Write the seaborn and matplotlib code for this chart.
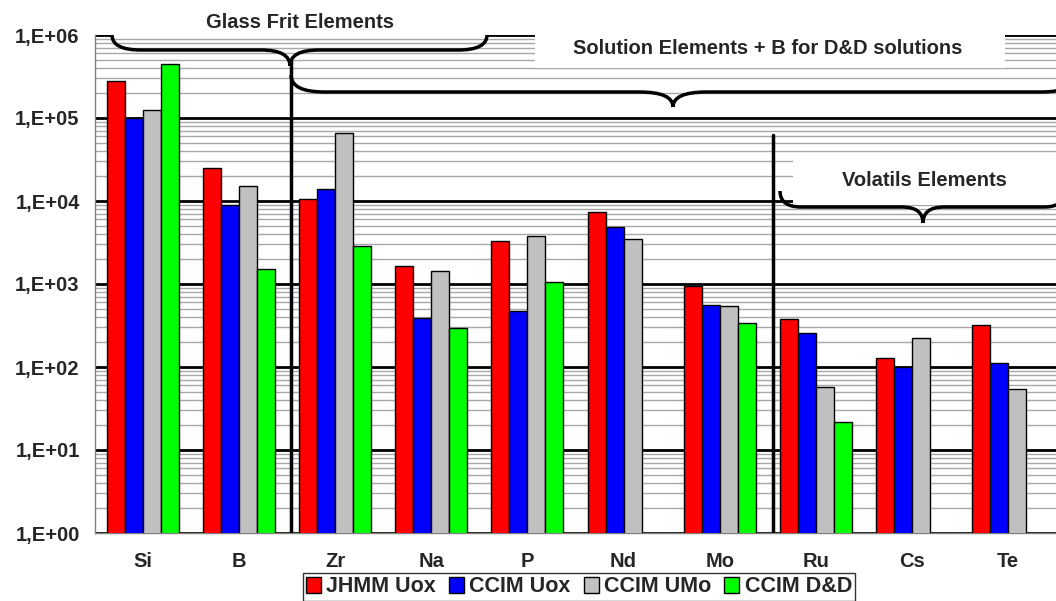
import numpy as np
import pandas as pd
import seaborn as sns
import matplotlib.pyplot as plt
from matplotlib.path import Path
from matplotlib.patches import PathPatch, Rectangle
from matplotlib.transforms import blended_transform_factory

# data (log scale)
elements = ["Si", "B", "Zr", "Na", "P", "Nd", "Mo", "Ru", "Cs", "Te"]
series = ["JHMM Uox", "CCIM Uox", "CCIM UMo", "CCIM D&D"]
jhmm_uox = [280000, 25000, 10500, 1650, 3300, 7400, 950, 380, 128, 320]
ccim_uox = [100000, 9000, 14000, 390, 470, 4900, 560, 260, 100, 112]
ccim_umo = [125000, 15000, 66000, 1430, 3800, 3500, 550, 57, 225, 54]
ccim_dd = [450000, 1500, 2900, 295, 1050, np.nan, 340, 22, np.nan, np.nan]
colors = ["#FF0000", "#0000FF", "#C0C0C0", "#00FF00"]
ytick_vals = [1, 10, 100, 1000, 10000, 100000, 1000000]
ytick_labels = ["1,E+00", "1,E+01", "1,E+02", "1,E+03", "1,E+04", "1,E+05", "1,E+06"]

df = pd.DataFrame({
    "element": elements * 4,
    "series": sum([[s] * len(elements) for s in series], []),
    "value": jhmm_uox + ccim_uox + ccim_umo + ccim_dd,
}).dropna()

sns.set_style("white")
plt.rcParams["font.family"] = ["Liberation Sans", "DejaVu Sans"]
plt.rcParams["font.weight"] = "bold"

fig = plt.figure(figsize=(10.56, 6.01), dpi=100)
ax = fig.add_axes([95 / 1056, 68 / 601, 961 / 1056, 498 / 601])

sns.barplot(data=df, x="element", y="value", hue="series", order=elements,
            hue_order=series, palette=colors, width=0.75, edgecolor="black",
            linewidth=1, saturation=1, ax=ax, zorder=3)
ax.set_yscale("log", nonpositive="clip")

ax.set_ylim(1, 1e6)
ax.set_xlim(-0.5, 9.5)
ax.set_yticks(ytick_vals, ytick_labels)
ax.set_xticks(range(len(elements)), elements)
ax.set_xticks(np.arange(-0.5, 10, 1), minor=True)
ax.set_xlabel("")
ax.set_ylabel("")

# gridlines: black decades, gray minor
ax.set_axisbelow(True)
ax.yaxis.grid(True, which="major", color="black", linewidth=2)
ax.yaxis.grid(True, which="minor", color="#a8a8a8", linewidth=1)
ax.tick_params(axis="y", which="major", length=7, color="black", width=1,
               labelsize=14.5, pad=4)
ax.tick_params(axis="y", which="minor", length=0)
ax.tick_params(axis="x", which="major", length=0, labelsize=14.5, pad=14)
ax.tick_params(axis="x", which="minor", length=6, color="#808080", width=1)
for side in ["top", "right"]:
    ax.spines[side].set_visible(False)
for side in ["left", "bottom"]:
    ax.spines[side].set_color("#808080")
    ax.spines[side].set_linewidth(1)

# annotation geometry: x in category units, y in axes fraction
tr = blended_transform_factory(ax.transData, ax.transAxes)


def px(x):
    return (x - 95) / 96.1 - 0.5


def py(y):
    return (533 - y) / 498


def brace(x0, x1, xc, y_end, y_mid, y_tip, dx):
    verts = [(x0, y_end), (x0, y_mid), (x0 + dx, y_mid), (xc - dx, y_mid),
             (xc, y_mid), (xc, y_tip),
             (xc, y_tip), (xc, y_mid), (xc + dx, y_mid), (x1 - dx, y_mid),
             (x1, y_mid), (x1, y_end)]
    codes = [Path.MOVETO, Path.CURVE3, Path.CURVE3, Path.LINETO,
             Path.CURVE3, Path.CURVE3,
             Path.MOVETO, Path.CURVE3, Path.CURVE3, Path.LINETO,
             Path.CURVE3, Path.CURVE3]
    ax.add_patch(PathPatch(Path(verts, codes), facecolor="none",
                           edgecolor="black", linewidth=2.5, transform=tr,
                           clip_on=False, zorder=6))


# white boxes behind labels
ax.add_patch(Rectangle((px(112), py(37)), px(487) - px(112), 0.03,
                       facecolor="white", edgecolor="none", transform=tr,
                       clip_on=False, zorder=4))
ax.add_patch(Rectangle((px(535), py(68)), px(1005) - px(535), py(30) - py(68),
                       facecolor="white", edgecolor="none", transform=tr,
                       clip_on=False, zorder=4))
ax.add_patch(Rectangle((px(793), py(205)), px(1070) - px(793), py(158) - py(205),
                       facecolor="white", edgecolor="none", transform=tr,
                       clip_on=False, zorder=4))

brace(px(112), px(487), px(290), py(35), py(50), py(66), 0.3)
brace(px(291), px(1075), px(673), py(75), py(92), py(107), 0.35)
brace(px(780), px(1065), px(923), py(191), py(207), py(223), 0.22)

# separators
ax.plot([px(291), px(291)], [0, py(60)], color="black", linewidth=2.5,
        transform=tr, zorder=6)
ax.plot([px(773), px(773)], [0, py(135)], color="black", linewidth=2.5,
        transform=tr, zorder=6)

ax.text(px(300), py(22), "Glass Frit Elements", transform=tr, ha="center",
        va="center", fontsize=14.5, fontweight="bold", zorder=7)
ax.text(px(768), py(48), "Solution Elements + B for D&D solutions",
        transform=tr, ha="center", va="center", fontsize=14.5,
        fontweight="bold", zorder=7)
ax.text(px(924), py(180), "Volatils Elements", transform=tr, ha="center",
        va="center", fontsize=14.5, fontweight="bold", zorder=7)

handles, labels = ax.get_legend_handles_labels()
ax.get_legend().remove()
leg = fig.legend(handles, labels, loc="center", ncol=4,
                 bbox_to_anchor=(579 / 1056, 1 - 587 / 601),
                 frameon=True, fancybox=False, edgecolor="black",
                 handlelength=0.7, handleheight=0.7, handletextpad=0.25,
                 columnspacing=0.6, borderpad=0.15, borderaxespad=0,
                 prop={"size": 15.5, "weight": "bold"})
leg.get_frame().set_linewidth(1)

fig.savefig("out.png", dpi=100)
